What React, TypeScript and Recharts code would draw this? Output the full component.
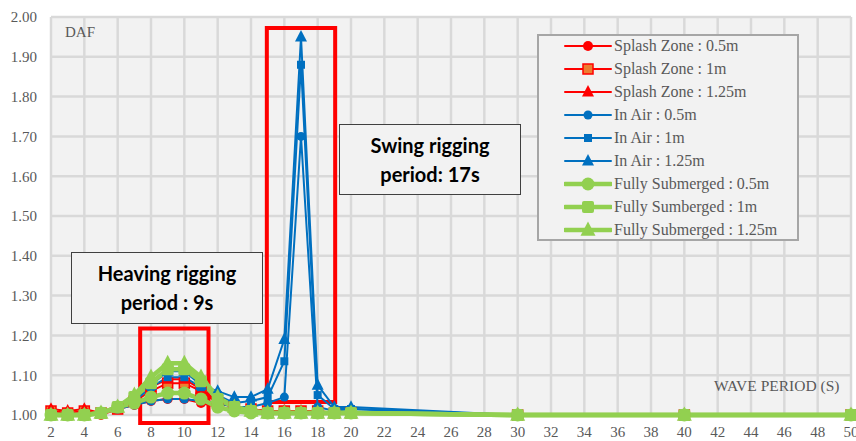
import { LineChart, Line, XAxis, YAxis, CartesianGrid, ReferenceArea } from "recharts";

// wave period (s) and DAF per case
const wavePeriod = [2, 3, 4, 5, 6, 7, 8, 9, 10, 11, 12, 13, 14, 15, 16, 17, 18, 19, 20, 30, 40, 50];
const splash05 = [1.005, 1.0, 1.005, 1.0, 1.015, 1.025, 1.035, 1.04, 1.04, 1.03, 1.02, 1.015, 1.01, 1.01, 1.01, 1.01, 1.005, 1.005, 1.005, 1.0, 1.0, 1.0];
const splash1 = [1.01, 1.005, 1.01, 1.005, 1.015, 1.035, 1.06, 1.08, 1.08, 1.06, 1.03, 1.02, 1.015, 1.01, 1.01, 1.01, 1.01, 1.005, 1.005, 1.0, 1.0, 1.0];
const splash125 = [1.015, 1.01, 1.015, 1.005, 1.02, 1.04, 1.07, 1.09, 1.09, 1.065, 1.035, 1.02, 1.015, 1.01, 1.01, 1.01, 1.01, 1.005, 1.005, 1.0, 1.0, 1.0];
const air05 = [1.0, 1.0, 1.0, 1.005, 1.015, 1.025, 1.035, 1.04, 1.04, 1.035, 1.03, 1.02, 1.02, 1.03, 1.045, 1.7, 1.02, 1.01, 1.015, 1.0, 1.0, 1.0];
const air1 = [1.0, 1.0, 1.0, 1.005, 1.015, 1.035, 1.07, 1.095, 1.095, 1.07, 1.05, 1.03, 1.035, 1.045, 1.135, 1.88, 1.05, 1.015, 1.015, 1.0, 1.0, 1.0];
const air125 = [1.0, 1.0, 1.0, 1.005, 1.02, 1.04, 1.075, 1.11, 1.11, 1.075, 1.06, 1.045, 1.045, 1.065, 1.19, 1.95, 1.075, 1.02, 1.02, 1.0, 1.0, 1.0];
const sub05 = [1.0, 1.0, 1.0, 1.005, 1.02, 1.03, 1.045, 1.055, 1.055, 1.04, 1.02, 1.01, 1.005, 1.005, 1.005, 1.005, 1.005, 1.005, 1.005, 1.0, 1.0, 1.0];
const sub1 = [1.0, 1.0, 1.0, 1.005, 1.02, 1.045, 1.08, 1.115, 1.115, 1.085, 1.04, 1.02, 1.01, 1.005, 1.005, 1.005, 1.005, 1.005, 1.005, 1.0, 1.0, 1.0];
const sub125 = [1.0, 1.0, 1.0, 1.005, 1.02, 1.05, 1.095, 1.13, 1.13, 1.095, 1.045, 1.02, 1.01, 1.005, 1.005, 1.005, 1.005, 1.005, 1.005, 1.0, 1.0, 1.0];

const xTicks = [2, 4, 6, 8, 10, 12, 14, 16, 18, 20, 22, 24, 26, 28, 30, 32, 34, 36, 38, 40, 42, 44, 46, 48, 50];
const yTicks = [1.0, 1.1, 1.2, 1.3, 1.4, 1.5, 1.6, 1.7, 1.8, 1.9, 2.0];

type Shape = "circle" | "square" | "triangle";

type Series = {
  key: string;
  name: string;
  values: number[];
  color: string;
  fill: string;
  shape: Shape;
  size: number;
  width: number;
};

const RED = "#ff0000";
const BLUE = "#0070c0";
const GREEN = "#92d050";

const series: Series[] = [
  { key: "s05", name: "Splash Zone : 0.5m", values: splash05, color: RED, fill: RED, shape: "circle", size: 5, width: 2 },
  { key: "s1", name: "Splash Zone : 1m", values: splash1, color: RED, fill: "#ed7d31", shape: "square", size: 5, width: 2 },
  { key: "s125", name: "Splash Zone : 1.25m", values: splash125, color: RED, fill: RED, shape: "triangle", size: 6, width: 2 },
  { key: "a05", name: "In Air : 0.5m", values: air05, color: BLUE, fill: BLUE, shape: "circle", size: 4.5, width: 2 },
  { key: "a1", name: "In Air : 1m", values: air1, color: BLUE, fill: BLUE, shape: "square", size: 4, width: 2 },
  { key: "a125", name: "In Air : 1.25m", values: air125, color: BLUE, fill: BLUE, shape: "triangle", size: 6, width: 2 },
  { key: "f05", name: "Fully Submerged : 0.5m", values: sub05, color: GREEN, fill: GREEN, shape: "circle", size: 6.5, width: 4.5 },
  { key: "f1", name: "Fully Sumberged : 1m", values: sub1, color: GREEN, fill: GREEN, shape: "square", size: 6, width: 4.5 },
  { key: "f125", name: "Fully Submerged : 1.25m", values: sub125, color: GREEN, fill: GREEN, shape: "triangle", size: 7.5, width: 4.5 },
];

const rows = wavePeriod.map((t, i) => {
  const row: Record<string, number> = { t };
  series.forEach((s) => (row[s.key] = s.values[i]));
  return row;
});

function Marker({ cx, cy, s }: { cx: number; cy: number; s: Series }) {
  const r = s.size;
  const sw = s.shape === "square" && s.fill !== s.color ? 1.5 : 0;
  if (s.shape === "circle") return <circle cx={cx} cy={cy} r={r} fill={s.fill} />;
  if (s.shape === "square")
    return (
      <rect x={cx - r} y={cy - r} width={r * 2} height={r * 2} rx={s.color === GREEN ? 2 : 0} fill={s.fill} stroke={s.color} strokeWidth={sw} />
    );
  return <path d={`M${cx},${cy - r * 1.15} L${cx + r},${cy + r * 0.75} L${cx - r},${cy + r * 0.75} Z`} fill={s.fill} />;
}

const serif = "'Liberation Serif', serif";
const sans = "Lato, 'Open Sans', sans-serif";
const grey = "#595959";

function NoteBox({ left, top, width, height, lines }: { left: number; top: number; width: number; height: number; lines: string[] }) {
  return (
    <div
      style={{
        position: "absolute",
        left,
        top,
        width,
        height,
        boxSizing: "border-box",
        border: "1px solid #404040",
        background: "#f2f2f2",
        display: "flex",
        flexDirection: "column",
        justifyContent: "center",
        alignItems: "center",
        fontFamily: sans,
        fontWeight: 700,
        fontSize: 20,
        lineHeight: "29px",
        color: "#000",
      }}
    >
      {lines.map((l) => (
        <div key={l}>{l}</div>
      ))}
    </div>
  );
}

export default function App() {
  return (
    <div style={{ position: "absolute", left: 0, top: 0, width: 856, height: 441, background: "#fff", overflow: "hidden" }}>
      <LineChart width={856} height={441} data={rows} margin={{ top: 17, right: 5, bottom: 4, left: 0 }}>
        <CartesianGrid fill="#f2f2f2" stroke="#d9d9d9" strokeWidth={2.5} />
        <XAxis
          dataKey="t"
          type="number"
          domain={[2, 50]}
          ticks={xTicks}
          interval={0}
          height={22}
          axisLine={false}
          tickLine={false}
          tickMargin={5}
          tick={{ fontFamily: serif, fontSize: 15, fill: grey }}
        />
        <YAxis
          type="number"
          domain={[1, 2]}
          ticks={yTicks}
          interval={0}
          width={51}
          axisLine={false}
          tickLine={false}
          tickMargin={8}
          tickFormatter={(v: number) => v.toFixed(2)}
          tick={{ fontFamily: serif, fontSize: 15, fill: grey }}
        />
        {series.map((s) => (
          <Line
            key={s.key}
            dataKey={s.key}
            name={s.name}
            type="linear"
            stroke={s.color}
            strokeWidth={s.width}
            isAnimationActive={false}
            activeDot={false}
            dot={(p: any) => <Marker key={`${s.key}-${p.index}`} cx={p.cx} cy={p.cy} s={s} />}
          />
        ))}
        <ReferenceArea x1={7.35} x2={11.45} y1={1.2175} y2={0.98} ifOverflow="visible" fill="none" fillOpacity={0} stroke={RED} strokeWidth={4} />
        <ReferenceArea x1={14.95} x2={19.05} y1={1.9725} y2={1.0325} ifOverflow="visible" fill="none" fillOpacity={0} stroke={RED} strokeWidth={4} />
      </LineChart>

      <div style={{ position: "absolute", left: 65, top: 24, fontFamily: serif, fontSize: 15, color: grey }}>DAF</div>
      <div style={{ position: "absolute", left: 714, top: 377, fontFamily: serif, fontSize: 15.5, color: grey }}>WAVE PERIOD (S)</div>

      <NoteBox left={71} top={252} width={192} height={72} lines={["Heaving rigging", "period : 9s"]} />
      <NoteBox left={339} top={124} width={182} height={71} lines={["Swing rigging", "period: 17s"]} />

      <div
        style={{
          position: "absolute",
          left: 537,
          top: 34,
          width: 262,
          height: 207,
          boxSizing: "border-box",
          border: "2px solid #a6a6a6",
          background: "#f2f2f2",
        }}
      />
      {series.map((s, i) => (
        <div
          key={s.key}
          style={{
            position: "absolute",
            left: 564,
            top: 46 + i * 23 - 11,
            height: 22,
            display: "flex",
            alignItems: "center",
            fontFamily: serif,
            fontSize: 16,
            color: grey,
            whiteSpace: "nowrap",
          }}
        >
          <svg width={48} height={18} style={{ marginRight: 2 }}>
            <line x1={1} y1={9} x2={47} y2={9} stroke={s.color} strokeWidth={s.width} strokeLinecap="round" />
            <Marker cx={24} cy={9} s={s} />
          </svg>
          {s.name}
        </div>
      ))}
    </div>
  );
}
